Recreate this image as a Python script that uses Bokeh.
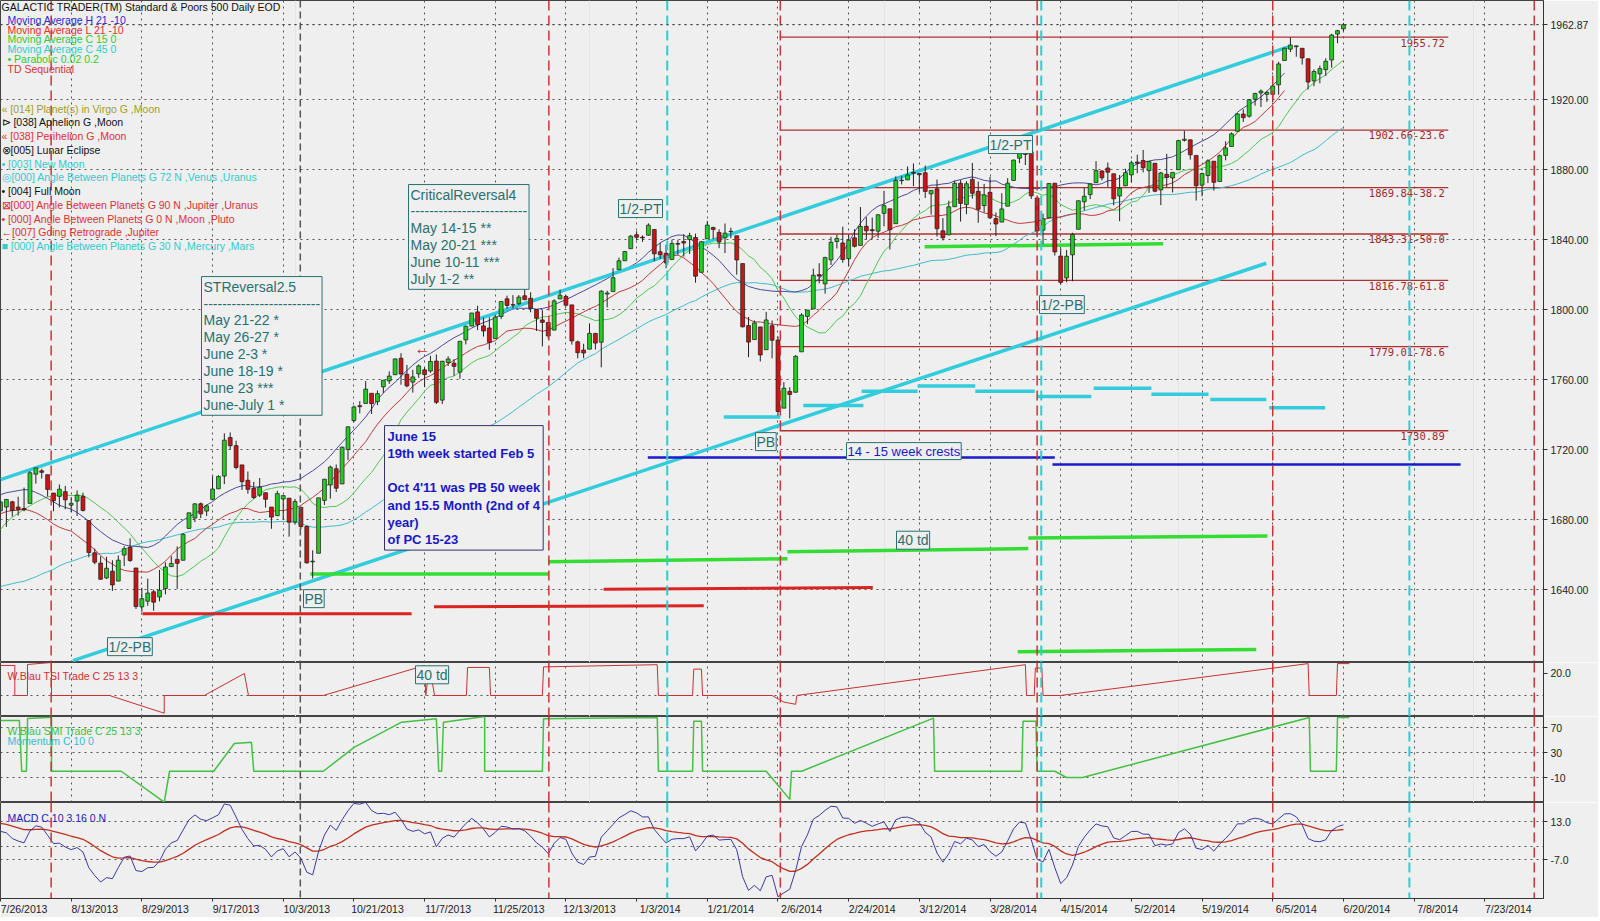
import numpy as np
import pandas as pd
from bokeh.plotting import figure
from bokeh.models import Range1d, FixedTicker, Grid, Label, Span, NumeralTickFormatter
from bokeh.layouts import column
from bokeh.embed import file_html
from bokeh.resources import INLINE
from bokeh.core.properties import value

# ---------------- data (S&P 500 daily, 7/25/2013 .. 6/20/2014) ----------------
pre_close = [1655.35, 1650.51, 1649.60, 1660.06, 1648.36, 1654.41, 1630.74, 1640.42, 1631.38, 1608.90,
             1622.56, 1643.38, 1642.81, 1626.13, 1612.52, 1636.36, 1626.73, 1639.04, 1651.81, 1628.93,
             1588.19, 1592.43, 1573.09, 1588.03, 1603.26, 1613.20, 1606.28, 1614.96, 1614.08, 1615.41,
             1631.89, 1640.46, 1652.32, 1652.62, 1675.02, 1680.19, 1682.50, 1676.26, 1680.91, 1689.37,
             1692.09, 1695.53, 1692.39, 1685.94]
pre_high = [1676.0, 1680.2, 1684.5, 1683.0, 1684.8, 1693.1, 1692.1, 1697.6, 1698.8, 1698.4]
pre_low = [1660.0, 1672.3, 1677.9, 1670.8, 1677.9, 1679.8, 1684.1, 1690.9, 1691.7, 1682.6]

opens = [1685.2, 1687.3, 1690.3, 1687.3, 1686.5, 1689.4, 1706.1, 1708.0, 1705.8, 1695.3,
         1693.4, 1696.1, 1688.4, 1690.7, 1693.4, 1679.6, 1661.2, 1655.3, 1646.8, 1650.7,
         1645.0, 1659.9, 1664.3, 1652.5, 1630.3, 1633.5, 1638.9, 1635.9, 1640.7, 1653.3,
         1657.4, 1656.9, 1675.1, 1681.0, 1689.2, 1685.0, 1691.7, 1697.7, 1705.0, 1727.0,
         1722.4, 1711.4, 1702.6, 1698.0, 1694.1, 1695.5, 1687.3, 1682.4, 1691.9, 1692.4,
         1678.8, 1687.2, 1676.2, 1656.0, 1660.9, 1691.1, 1699.9, 1709.2, 1700.5, 1720.2,
         1736.7, 1745.2, 1746.5, 1752.3, 1747.5, 1756.0, 1759.4, 1762.9, 1772.3, 1763.2,
         1758.7, 1763.4, 1765.7, 1765.0, 1770.7, 1748.4, 1769.9, 1769.5, 1764.4, 1782.8,
         1790.7, 1798.8, 1790.8, 1789.6, 1783.5, 1796.2, 1806.3, 1802.9, 1803.5, 1808.0,
         1806.6, 1800.1, 1794.2, 1792.8, 1788.4, 1806.2, 1807.6, 1802.8, 1781.7, 1777.0,
         1777.5, 1786.5, 1781.5, 1809.0, 1810.4, 1822.9, 1828.0, 1834.9, 1842.9, 1841.5,
         1842.6, 1845.9, 1833.2, 1832.3, 1828.7, 1837.9, 1839.0, 1840.1, 1841.3, 1821.4,
         1840.5, 1847.0, 1844.2, 1841.1, 1844.7, 1842.3, 1826.4, 1791.0, 1783.0, 1790.2,
         1777.2, 1790.9, 1782.7, 1743.8, 1753.4, 1752.9, 1776.0, 1796.2, 1800.5, 1820.1,
         1814.8, 1828.5, 1839.0, 1838.2, 1829.2, 1841.1, 1836.8, 1847.7, 1845.8, 1844.9,
         1855.1, 1857.7, 1849.2, 1874.1, 1874.2, 1878.5, 1877.9, 1878.3, 1866.2, 1869.1,
         1845.1, 1842.8, 1858.9, 1872.3, 1860.1, 1874.5, 1867.7, 1859.5, 1867.1, 1852.1,
         1850.1, 1859.2, 1873.9, 1886.6, 1891.4, 1890.3, 1863.9, 1845.5, 1852.6, 1872.3,
         1830.7, 1818.2, 1831.4, 1846.0, 1861.7, 1865.8, 1872.6, 1879.3, 1881.0, 1877.7,
         1865.0, 1870.8, 1877.1, 1884.4, 1885.3, 1879.5, 1883.7, 1868.5, 1877.4, 1875.3,
         1880.0, 1896.8, 1897.1, 1888.2, 1871.2, 1876.7, 1884.9, 1873.3, 1888.2, 1893.3,
         1902.0, 1911.8, 1910.6, 1920.3, 1923.9, 1923.1, 1923.1, 1928.5, 1942.4, 1948.9,
         1950.3, 1949.4, 1943.4, 1930.8, 1934.8, 1937.2, 1942.7, 1957.5, 1960.5]
highs = [1690.9, 1691.9, 1690.9, 1693.2, 1698.4, 1707.9, 1709.7, 1709.2, 1705.8, 1695.3,
         1700.2, 1699.4, 1693.0, 1696.8, 1695.5, 1679.6, 1663.6, 1659.2, 1658.9, 1656.9,
         1659.6, 1664.9, 1669.5, 1652.5, 1641.2, 1646.4, 1640.1, 1651.4, 1655.7, 1659.2,
         1664.8, 1672.4, 1684.1, 1689.5, 1689.9, 1688.7, 1704.9, 1705.5, 1729.4, 1729.9,
         1725.2, 1711.4, 1707.6, 1701.7, 1703.9, 1695.5, 1687.3, 1696.6, 1693.9, 1692.4,
         1691.9, 1687.2, 1676.8, 1662.6, 1692.6, 1703.4, 1711.0, 1711.6, 1721.8, 1733.4,
         1745.3, 1747.8, 1759.3, 1752.3, 1753.9, 1759.8, 1764.8, 1772.1, 1775.2, 1768.5,
         1765.7, 1768.8, 1767.0, 1773.7, 1774.5, 1770.8, 1773.4, 1771.8, 1782.0, 1791.0,
         1798.2, 1802.3, 1795.5, 1795.7, 1797.2, 1804.8, 1808.1, 1808.4, 1808.4, 1813.6,
         1810.0, 1800.1, 1799.8, 1792.8, 1806.0, 1811.5, 1808.5, 1802.8, 1782.4, 1780.6,
         1792.2, 1786.8, 1811.1, 1810.9, 1823.8, 1829.8, 1833.6, 1842.8, 1844.9, 1842.5,
         1849.4, 1845.9, 1838.2, 1837.2, 1840.1, 1840.0, 1843.2, 1844.0, 1843.5, 1839.3,
         1850.8, 1847.5, 1846.0, 1849.3, 1846.9, 1842.3, 1826.4, 1795.9, 1793.9, 1790.2,
         1798.8, 1793.9, 1784.8, 1758.7, 1755.8, 1774.1, 1798.0, 1799.9, 1823.5, 1826.6,
         1830.3, 1841.7, 1842.9, 1847.5, 1842.8, 1846.1, 1858.7, 1852.9, 1852.7, 1854.5,
         1867.9, 1857.7, 1876.2, 1876.5, 1881.9, 1883.6, 1877.9, 1882.4, 1868.4, 1874.4,
         1852.4, 1862.3, 1873.8, 1874.1, 1873.5, 1883.9, 1873.3, 1871.9, 1875.9, 1855.6,
         1866.6, 1875.2, 1885.8, 1893.2, 1893.8, 1897.3, 1864.0, 1854.9, 1872.4, 1872.5,
         1835.1, 1834.2, 1844.0, 1862.4, 1869.6, 1871.9, 1884.9, 1879.8, 1884.1, 1877.7,
         1877.0, 1880.6, 1885.2, 1888.6, 1891.3, 1885.0, 1883.7, 1878.8, 1889.1, 1878.6,
         1897.1, 1902.2, 1897.2, 1888.2, 1878.3, 1886.0, 1884.9, 1888.8, 1896.3, 1901.3,
         1912.3, 1914.5, 1920.4, 1924.0, 1925.9, 1925.1, 1928.6, 1941.7, 1949.8, 1955.6,
         1950.9, 1949.4, 1943.4, 1937.3, 1939.5, 1943.7, 1957.7, 1959.9, 1963.9]
lows = [1680.7, 1676.0, 1681.9, 1682.4, 1684.9, 1689.4, 1700.7, 1703.6, 1693.3, 1684.9,
        1687.1, 1686.0, 1684.4, 1682.2, 1684.8, 1658.6, 1654.6, 1645.8, 1646.1, 1639.4,
        1645.0, 1653.6, 1656.0, 1629.1, 1627.5, 1630.9, 1628.1, 1633.4, 1637.4, 1653.1,
        1640.6, 1656.9, 1675.1, 1678.7, 1681.0, 1682.2, 1691.7, 1697.7, 1700.4, 1720.2,
        1708.9, 1697.1, 1694.9, 1691.9, 1693.1, 1687.0, 1674.9, 1682.1, 1680.3, 1670.4,
        1677.3, 1674.7, 1655.0, 1646.5, 1660.9, 1688.5, 1692.1, 1695.9, 1700.5, 1714.1,
        1735.7, 1740.8, 1746.5, 1740.5, 1745.5, 1752.5, 1757.7, 1762.9, 1757.2, 1755.7,
        1752.7, 1761.1, 1755.8, 1764.0, 1746.2, 1746.2, 1767.9, 1762.3, 1760.6, 1780.2,
        1790.7, 1788.4, 1784.7, 1777.2, 1783.5, 1794.7, 1800.6, 1800.8, 1802.8, 1805.5,
        1798.6, 1787.9, 1779.1, 1783.4, 1788.4, 1806.2, 1801.8, 1780.1, 1772.3, 1772.4,
        1777.5, 1777.3, 1767.1, 1801.4, 1810.4, 1822.9, 1828.0, 1834.9, 1839.8, 1838.8,
        1842.4, 1827.7, 1829.1, 1823.7, 1828.7, 1831.4, 1830.4, 1831.9, 1815.5, 1821.4,
        1840.5, 1840.3, 1835.2, 1832.4, 1840.9, 1820.1, 1789.9, 1772.9, 1783.0, 1770.5,
        1777.2, 1772.3, 1739.7, 1743.8, 1737.9, 1752.6, 1776.0, 1791.8, 1800.5, 1815.1,
        1809.2, 1825.6, 1835.0, 1826.9, 1824.9, 1835.6, 1836.8, 1840.2, 1840.7, 1841.1,
        1847.7, 1834.4, 1849.2, 1871.6, 1874.2, 1870.6, 1867.0, 1863.9, 1854.4, 1841.9,
        1839.6, 1842.8, 1858.9, 1850.4, 1854.6, 1863.5, 1849.7, 1855.6, 1851.9, 1842.1,
        1850.1, 1859.2, 1873.9, 1883.8, 1882.7, 1863.3, 1841.5, 1837.5, 1852.4, 1831.0,
        1814.4, 1815.8, 1816.3, 1846.0, 1856.7, 1863.2, 1872.6, 1873.9, 1870.2, 1859.7,
        1850.6, 1870.8, 1872.7, 1878.0, 1878.5, 1866.8, 1867.2, 1859.8, 1870.1, 1867.0,
        1880.0, 1896.1, 1885.8, 1862.4, 1864.8, 1872.4, 1868.1, 1873.3, 1885.4, 1893.3,
        1902.0, 1907.3, 1909.8, 1916.6, 1915.9, 1918.8, 1918.6, 1922.9, 1942.4, 1947.2,
        1944.6, 1940.1, 1925.8, 1927.7, 1929.4, 1933.6, 1938.3, 1952.3, 1959.2]
closes = [1690.25, 1691.65, 1685.33, 1685.96, 1685.73, 1706.87, 1709.67, 1707.14, 1697.37, 1690.91,
          1697.48, 1691.42, 1689.47, 1694.16, 1685.39, 1661.32, 1655.83, 1646.06, 1652.35, 1642.80,
          1656.96, 1663.50, 1656.78, 1630.48, 1634.96, 1638.17, 1632.97, 1639.77, 1653.08, 1655.08,
          1655.17, 1671.71, 1683.99, 1689.13, 1683.42, 1687.99, 1697.60, 1704.76, 1725.52, 1722.34,
          1709.91, 1701.84, 1697.42, 1692.77, 1698.67, 1691.75, 1681.55, 1695.00, 1693.87, 1678.66,
          1690.50, 1676.12, 1655.45, 1656.40, 1692.56, 1703.20, 1710.14, 1698.06, 1721.54, 1733.15,
          1744.50, 1744.66, 1754.67, 1746.38, 1752.07, 1759.77, 1762.11, 1771.95, 1763.31, 1756.54,
          1761.64, 1767.93, 1762.97, 1770.49, 1747.15, 1770.61, 1771.89, 1767.69, 1782.00, 1790.62,
          1798.18, 1791.53, 1787.87, 1781.37, 1795.85, 1804.76, 1802.48, 1802.75, 1807.23, 1805.81,
          1800.90, 1795.15, 1792.81, 1785.03, 1805.09, 1808.37, 1802.62, 1782.22, 1775.50, 1775.32,
          1786.54, 1781.00, 1810.65, 1809.60, 1818.32, 1827.99, 1833.32, 1842.02, 1841.40, 1841.07,
          1848.36, 1831.98, 1831.37, 1826.77, 1837.88, 1837.49, 1838.13, 1842.37, 1819.20, 1838.88,
          1848.38, 1845.89, 1838.70, 1843.80, 1844.86, 1828.46, 1790.29, 1781.56, 1792.50, 1774.20,
          1794.19, 1782.59, 1741.89, 1755.20, 1751.64, 1773.43, 1797.02, 1799.84, 1819.75, 1819.26,
          1829.83, 1838.63, 1840.76, 1828.75, 1839.78, 1836.25, 1847.61, 1845.12, 1845.16, 1854.29,
          1859.45, 1845.73, 1873.91, 1873.81, 1877.03, 1878.04, 1877.17, 1867.63, 1868.20, 1846.34,
          1841.13, 1858.83, 1872.25, 1860.77, 1872.01, 1866.52, 1857.44, 1865.62, 1852.56, 1849.04,
          1857.62, 1872.34, 1885.52, 1890.90, 1888.77, 1865.09, 1845.04, 1851.96, 1872.18, 1833.08,
          1815.69, 1830.61, 1842.98, 1862.31, 1864.85, 1871.89, 1879.55, 1875.39, 1878.61, 1863.40,
          1869.43, 1878.33, 1883.95, 1883.68, 1881.14, 1884.66, 1867.72, 1878.21, 1875.63, 1878.48,
          1896.65, 1897.45, 1888.53, 1870.85, 1877.86, 1885.08, 1872.83, 1888.03, 1892.49, 1900.53,
          1911.91, 1909.78, 1920.03, 1923.57, 1924.97, 1924.24, 1927.88, 1940.46, 1949.44, 1951.27,
          1950.79, 1943.89, 1930.11, 1936.16, 1937.78, 1941.99, 1956.98, 1959.48, 1962.87]

tick_labels = ["7/26/2013", "8/13/2013", "8/29/2013", "9/17/2013", "10/3/2013", "10/21/2013",
               "11/7/2013", "11/25/2013", "12/13/2013", "1/3/2014", "1/21/2014", "2/6/2014",
               "2/24/2014", "3/12/2014", "3/28/2014", "4/15/2014", "5/2/2014", "5/19/2014",
               "6/5/2014", "6/20/2014", "7/8/2014", "7/23/2014"]

fib_levels = [1955.72, 1902.66, 1869.84, 1843.31, 1816.78, 1779.01, 1730.89]
fib_texts = ["1955.72", "1902.66-23.6", "1869.84-38.2", "1843.31-50.0", "1816.78-61.8",
             "1779.01-78.6", "1730.89"]
fib_span = [132.3, 245.8]

red_cycle_bars = [8.6, 93.1, 132.4, 176.0, 216.0, 260.4]
gray_cycle_bars = [50.9]
cyan_cycle_bars = [113.2, 176.7, 239.2]

chan_upper_bars = [0.0, 218.8]
chan_upper_px = [1703.0, 1950.4]
chan_lower_bars = [12.3, 214.9]
chan_lower_px = [1599.6, 1826.6]

green_x0 = [52.6, 93.0, 133.6, 174.5, 156.9, 172.7]
green_x1 = [93.0, 133.6, 174.5, 215.1, 197.4, 213.2]
green_y0 = [1649.0, 1656.1, 1661.8, 1669.6, 1836.0, 1604.7]
green_y1 = [1649.0, 1657.8, 1663.6, 1670.7, 1837.7, 1605.9]

red_x0 = [24.1, 73.6, 102.4]
red_x1 = [69.8, 119.4, 148.1]
red_y0 = [1626.4, 1630.4, 1640.3]
red_y1 = [1626.4, 1630.9, 1641.4]

blue_x0 = [109.9, 178.6]
blue_x1 = [179.0, 247.9]
blue_y = [1715.6, 1711.6]

cyan_x0 = [122.8, 136.3, 146.2, 155.7, 165.5, 176.1, 185.6, 195.4, 205.4, 215.4]
cyan_x1 = [132.4, 146.5, 155.7, 165.5, 175.6, 185.2, 195.4, 205.1, 214.9, 224.9]
cyan_y = [1738.8, 1745.3, 1753.4, 1756.4, 1753.4, 1750.5, 1755.2, 1751.7, 1748.7, 1744.1]

tsi_bars = [0.0, 2.43, 2.43, 4.58, 4.58, 8.66, 8.66, 18.5, 27.8, 27.8, 34.6, 41.4, 42.1, 54.8,
            72.0, 72.2, 72.8, 73.7, 79.1, 79.3, 83.0, 83.2, 92.0, 92.2, 111.5, 111.7, 117.5,
            117.7, 119.0, 119.2, 131.0, 133.0, 135.0, 135.2, 174.0, 174.2, 175.5, 175.7, 176.8,
            177.0, 180.0, 222.0, 222.2, 226.8, 227.0, 229.0]
tsi_vals = [27.3, 27.3, 0, 0, 28.2, 30, 0, 0, -16.1, 0, 0, 20, 0, 0,
            27.3, 0, 27.3, 0, 0, 25.5, 25.5, 0, 0, 26, 28, 0, 0,
            24, 24, 0, 0, -6, -8, 0, 28, 0, 0, 25, 25,
            0, 0, 29, 0, 0, 29, 29]

smi_bars = [0.0, 3.2, 3.6, 4.4, 4.6, 8.66, 8.66, 20.5, 27.8, 28.7, 36.2, 39.7, 42.6, 43.0, 54.8,
            60.1, 68.1, 74.0, 74.4, 74.9, 75.2, 82.2, 82.2, 92.0, 92.2, 111.5, 111.7, 117.5,
            117.7, 119.0, 119.2, 130.0, 134.0, 134.3, 136.0, 158.4, 158.6, 173.4, 173.6, 175.8,
            176.0, 179.0, 181.0, 183.7, 222.2, 222.4, 226.8, 227.0, 229.0]
smi_vals = [81.2, 81.2, 0, 0, 84.4, 86.5, 0, 0, -49.5, 0, 0, 44.4, 46.5, 0, 0,
            38.5, 78.5, 83.9, 0, 0, 78.5, 87.6, 0, 0, 84, 86, 0, 0,
            80, 80, 0, 0, -45, 0, 0, 85, 0, 0, 80, 80,
            0, 0, -10, -10, 86, 0, 0, 86, 86]

header_text = "GALACTIC TRADER(TM)     Standard & Poors 500 Daily EOD"
legend_top = [("Moving Average H 21 -10", "#2b2bd0"), ("Moving Average L 21 -10", "#e03030"),
              ("Moving Average C 15 0", "#30cc30"), ("Moving Average C 45 0", "#30cccc"),
              ("\u2022 Parabolic 0.02 0.2", "#30cc30"), ("TD Sequential", "#e03030")]
legend_events = [("\u00ab [014] Planet(s) in Virgo G ,Moon", "#a0a020"),
                 ("\u22b3 [038] Aphelion G ,Moon", "#111111"),
                 ("\u00ab [038] Perihelion G ,Moon", "#e03030"),
                 ("\u2297[005] Lunar Eclipse", "#111111"),
                 ("\u2022 [003] New Moon", "#30cccc"),
                 ("\u25ce[000] Angle Between Planets G 72 N ,Venus ,Uranus", "#30cccc"),
                 ("\u2022 [004] Full Moon", "#111111"),
                 ("\u22a0[000] Angle Between Planets G 90 N ,Jupiter ,Uranus", "#e03030"),
                 ("\u2022 [000] Angle Between Planets G 0 N ,Moon ,Pluto", "#e03030"),
                 ("\u2190[007] Going Retrograde ,Jupiter", "#e03030"),
                 ("\u25a0 [000] Angle Between Planets G 30 N ,Mercury ,Mars", "#30cccc")]

st_reversal = ["STReversal2.5", "-------------------------", "May 21-22 *", "May 26-27 *",
               "June 2-3 *", "June 18-19 *", "June 23 ***", "June-July 1 *"]
crit_reversal = ["CriticalReversal4", "-------------------------", "May 14-15 **",
                 "May 20-21 ***", "June 10-11 ***", "July 1-2 **"]
june_note = ["June 15", "19th week started Feb 5", "", "Oct 4'11 was PB 50 week",
             "and 15.5 Month (2nd of 4", "year)", "of PC 15-23"]

# ---------------- derived indicators ----------------
n = len(closes)
idx = np.arange(n)
o = np.array(opens); h = np.array(highs); l = np.array(lows); c = np.array(closes)
npre = len(pre_close)
allc = pd.Series(pre_close + closes)
ma15 = allc.rolling(15).mean().values[npre:]
ma45 = allc.rolling(45).mean().values[npre:]
allh = pd.Series(pre_high + highs)
alll = pd.Series(pre_low + lows)
ma_h = allh.rolling(21).mean().shift(-10).values[len(pre_high):]
ma_l = alll.rolling(21).mean().shift(-10).values[len(pre_low):]
e3 = allc.ewm(span=3, adjust=False).mean()
e10 = allc.ewm(span=10, adjust=False).mean()
macd = (e3 - e10)
sig = macd.ewm(span=16, adjust=False).mean()
macd_v = macd.values[npre:]
sig_v = sig.values[npre:]

# ---------------- layout helpers ----------------
BG = "#efefef"
FW = 1543
PXB = 5.89
FONT = "Liberation Sans"
xr = Range1d(0.0, FW / PXB)
tick_pos = [12 * k for k in range(len(tick_labels))]


def bx(xf):
    return xf / PXB


def py(yf):
    return 1976.7 - yf / 1.75


def mk(fh, yr, xaxis=False):
    p = figure(frame_width=FW, frame_height=fh, x_range=xr, y_range=yr,
               output_backend="svg", toolbar_location=None,
               x_axis_location="below" if xaxis else None, y_axis_location="right",
               min_border_left=0, min_border_right=55, min_border_top=0, min_border_bottom=0,
               background_fill_color=BG, border_fill_color=BG, outline_line_color="#444")
    p.add_layout(Grid(dimension=0, ticker=FixedTicker(ticks=tick_pos), grid_line_color="#555",
                      grid_line_dash="2 4", grid_line_width=1))
    ax = p.yaxis[0]
    ax.axis_line_color = "#333"
    ax.major_tick_line_color = "#333"
    ax.major_tick_out = 4
    ax.major_tick_in = 0
    ax.minor_tick_line_color = None
    ax.major_label_text_font = FONT
    ax.major_label_text_font_size = "10.5px"
    ax.major_label_text_color = "#222"
    ax.major_label_standoff = 3
    p.ygrid.grid_line_color = "#555"
    p.ygrid.grid_line_dash = "2 4"
    for b in red_cycle_bars:
        p.add_layout(Span(location=b, dimension="height", line_color="#cc3333",
                          line_dash="10 5", line_width=1.5))
    for b in gray_cycle_bars:
        p.add_layout(Span(location=b, dimension="height", line_color="#555555",
                          line_dash="7 4", line_width=1.5))
    for b in cyan_cycle_bars:
        p.add_layout(Span(location=b, dimension="height", line_color="#33cccc",
                          line_dash="10 5", line_width=2))
    return p


def lab(p, x, y, text, color, size="10.5px", font=FONT, baseline="middle", align="left",
        bold=False, border=None, pad=0, lh=1.2, xoff=0):
    kw = dict(x=x, y=y, text=text, text_color=color, text_font=font, text_font_size=size,
              text_baseline=baseline, text_align=align, text_line_height=lh, x_offset=xoff)
    if bold:
        kw["text_font_style"] = "bold"
    if border:
        kw.update(border_line_color=border, border_line_width=1, background_fill_color=BG,
                  padding=pad)
    p.add_layout(Label(**kw))


# ---------------- main price panel ----------------
pm = mk(662, Range1d(1598.5, 1976.7))
pm.yaxis.ticker = FixedTicker(ticks=[1640, 1680, 1720, 1760, 1800, 1840, 1880, 1920, closes[-1]])
pm.yaxis.formatter = NumeralTickFormatter(format="0.00")
pm.ygrid.ticker = FixedTicker(ticks=[1640, 1680, 1720, 1760, 1800, 1840, 1880, 1920, closes[-1]])
lab(pm, xr.end, 1600.3, "1600.00", "#222", baseline="bottom", xoff=7)

# fib lines
for lv in fib_levels:
    pm.line(fib_span, [lv, lv], line_color="#b03030", line_width=1.3)
pm.text(x=[fib_span[1] - 0.6] * len(fib_levels), y=[lv - 0.8 for lv in fib_levels], text=fib_texts,
        text_color="#a02828", text_font=value("DejaVu Sans Mono"), text_font_size="10.5px",
        text_align="right", text_baseline="top")

# moving averages
pm.line(idx, ma45, line_color="#40bccc", line_width=1)
pm.line(idx, ma15, line_color="#50c850", line_width=1)
pm.line(idx, ma_l, line_color="#c03a3a", line_width=1)
pm.line(idx, ma_h, line_color="#4a4a9a", line_width=1)

# channel lines
pm.line(chan_upper_bars, chan_upper_px, line_color="#33ccdd", line_width=3.5)
pm.line(chan_lower_bars, chan_lower_px, line_color="#33ccdd", line_width=3.5)

# horizontal level segments
pm.segment(x0=green_x0, y0=green_y0, x1=green_x1, y1=green_y1, line_color="#33dd33", line_width=3.5)
pm.segment(x0=red_x0, y0=red_y0, x1=red_x1, y1=red_y1, line_color="#dd2222", line_width=3)
pm.segment(x0=blue_x0, y0=blue_y, x1=blue_x1, y1=blue_y, line_color="#1a1acc", line_width=2.5)
pm.segment(x0=cyan_x0, y0=cyan_y, x1=cyan_x1, y1=cyan_y, line_color="#33ccdd", line_width=3.5)

# candles
up = c >= o
top = np.maximum(o, c)
bot = np.minimum(o, c)
pm.segment(x0=idx, y0=l, x1=idx, y1=h, line_color="#222", line_width=1)
pm.vbar(x=idx[up], width=0.66, top=top[up], bottom=bot[up], fill_color="#22cc22",
        line_color="#1a1a1a", line_width=0.7)
pm.vbar(x=idx[~up], width=0.66, top=top[~up], bottom=bot[~up], fill_color="#cc1414",
        line_color="#1a1a1a", line_width=0.7)

# current price line
pm.add_layout(Span(location=closes[-1], dimension="width", line_color="#444",
                   line_dash="2 4", line_width=1))

# legend texts
lab(pm, bx(1), py(6.5), header_text, "#111")
for i, (t, col) in enumerate(legend_top):
    lab(pm, bx(7), py(19.3 + 9.8 * i), t, col)
for i, (t, col) in enumerate(legend_events):
    lab(pm, bx(1), py(108 + 13.77 * i), t, col)

# boxes
teal = "#2a7070"
lab(pm, bx(201), py(276), "\n".join(st_reversal), teal, size="14px", baseline="top",
    border=teal, pad=2, lh=1.06)
lab(pm, bx(408), py(184), "\n".join(crit_reversal), teal, size="14px", baseline="top",
    border=teal, pad=2, lh=1.06)
lab(pm, bx(384), py(425), "\n".join(june_note), "#1818c8", size="13px", baseline="top",
    bold=True, border="#333366", pad=3, lh=1.15)
lab(pm, bx(846), py(442), "14 - 15 week crests", "#1a1acc", size="13px", baseline="top",
    border=teal, pad=1)
for (xf, yf, t) in [(107, 637, "1/2-PB"), (303, 589, "PB"), (618, 199, "1/2-PT"),
                    (755, 432, "PB"), (988, 135, "1/2-PT"), (1039, 295, "1/2-PB"),
                    (896, 530.6, "40 td")]:
    lab(pm, bx(xf), py(yf), t, teal, size="14px", baseline="top", border=teal, pad=1)
lab(pm, bx(414), py(348), "\u2190", "#dd2222", size="16px")

# ---------------- TSI panel ----------------
pt = mk(54, Range1d(-19.1, 30))
pt.yaxis.ticker = FixedTicker(ticks=[20])
pt.yaxis.formatter = NumeralTickFormatter(format="0.0")
pt.ygrid.ticker = FixedTicker(ticks=[0])
pt.line(tsi_bars, tsi_vals, line_color="#c83030", line_width=1)
lab(pt, bx(7), 17.3, "W.Blau TSI Trade C 25 13 3", "#d03030")
lab(pt, bx(415), 27.0, "40 td", teal, size="14px", baseline="top", border=teal, pad=1)

# ---------------- SMI panel ----------------
ps = mk(86, Range1d(-50, 87.6))
ps.yaxis.ticker = FixedTicker(ticks=[70, 30, -10])
ps.yaxis.formatter = NumeralTickFormatter(format="0")
ps.ygrid.ticker = FixedTicker(ticks=[70, 30, -10])
ps.line(smi_bars, smi_vals, line_color="#44c044", line_width=1.5)
lab(ps, bx(7), 65.2, "W.Blau SMI Trade C 25 13 3", "#40c040")
lab(ps, bx(7), 49.2, "Momentum C 10 0", "#30c0d0")

# ---------------- MACD panel ----------------
pq = mk(96, Range1d(-27.5, 23), xaxis=True)
pq.yaxis.ticker = FixedTicker(ticks=[13, -7])
pq.yaxis.formatter = NumeralTickFormatter(format="0.0")
pq.ygrid.ticker = FixedTicker(ticks=[13, 0, -7])
pq.line(idx, sig_v, line_color="#c03020", line_width=1.3)
pq.line(idx, macd_v, line_color="#3a3aa0", line_width=1)
lab(pq, bx(7), 15.1, "MACD C 10 3 16 0 N", "#2020c0")

xa = pq.xaxis[0]
lab_pos = [t + 4 for t in tick_pos]
xa.ticker = FixedTicker(ticks=lab_pos, minor_ticks=tick_pos)
xa.major_label_overrides = {lp: s for lp, s in zip(lab_pos, tick_labels)}
xa.major_tick_line_color = None
xa.major_tick_out = 0
xa.minor_tick_line_color = "#333"
xa.minor_tick_out = 3
xa.minor_tick_in = 0
xa.axis_line_color = "#333"
xa.major_label_text_font = FONT
xa.major_label_text_font_size = "10.5px"
xa.major_label_text_color = "#222"
xa.major_label_standoff = 1
pq.xgrid.grid_line_color = None

layout = column(pm, pt, ps, pq, spacing=0)
open("out.html", "w").write(file_html(layout, INLINE))
